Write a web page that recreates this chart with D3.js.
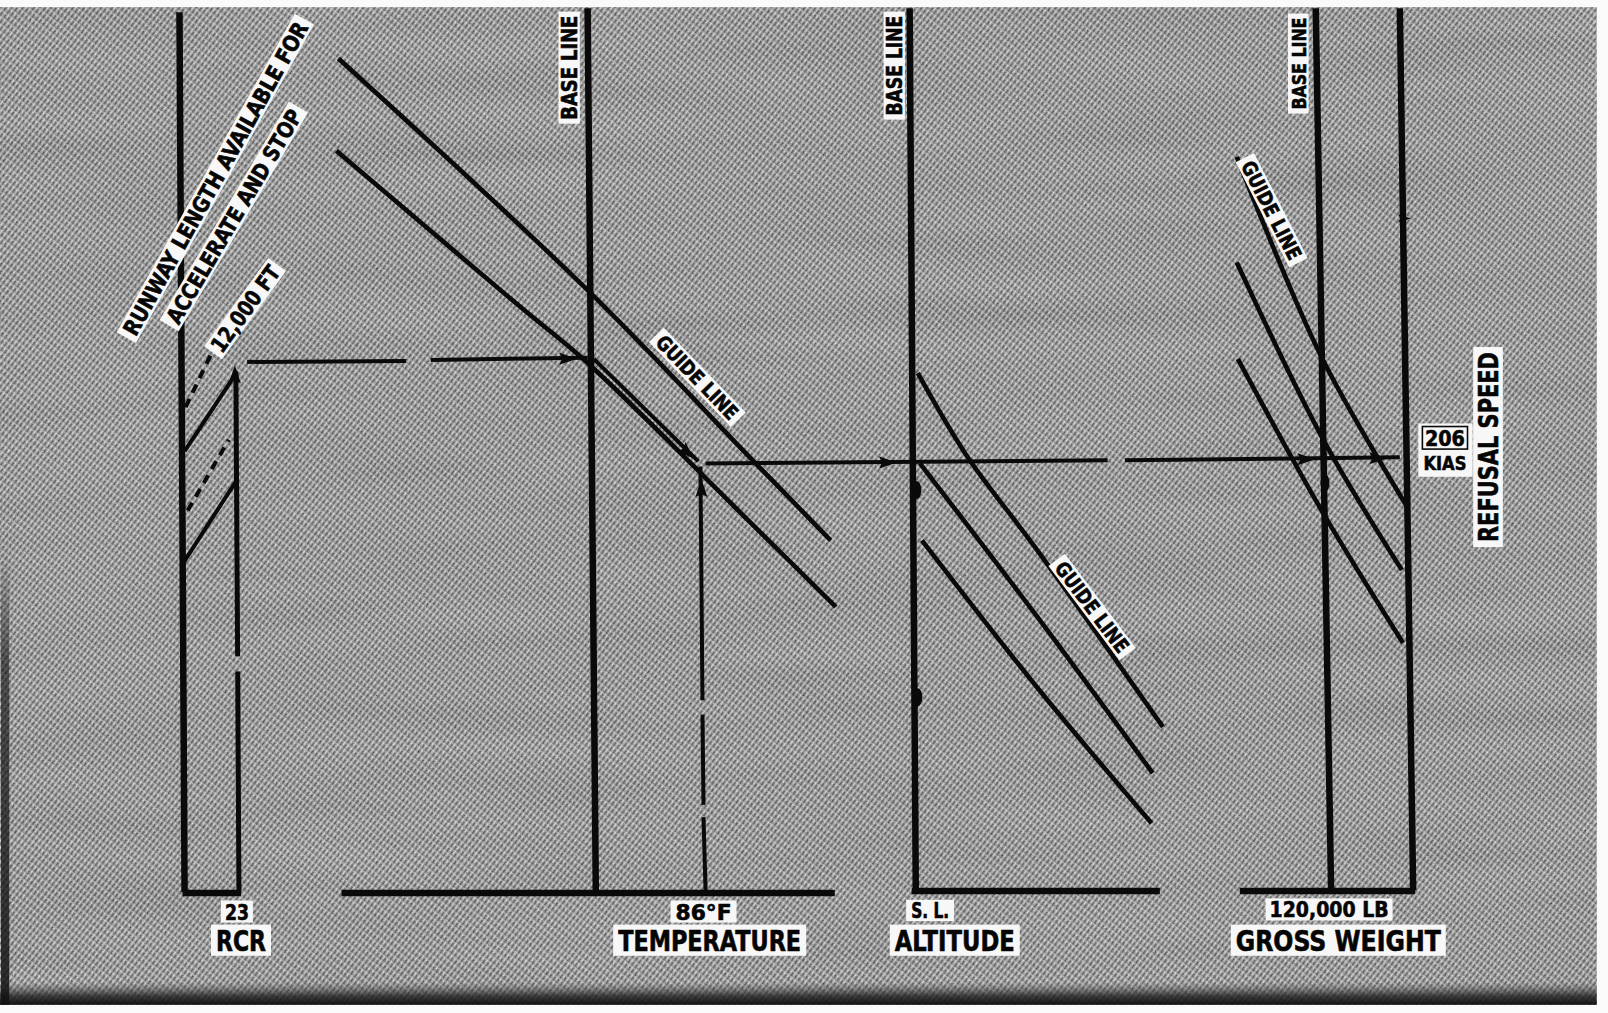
<!DOCTYPE html>
<html><head><meta charset="utf-8">
<script src="https://cdn.jsdelivr.net/npm/d3@7"></script>
<style>html,body{margin:0;padding:0;background:#fff;overflow:hidden}svg{display:block}</style>
</head><body>
<svg id="c" width="1608" height="1013"></svg>
<script>
// ===== DATA (nomogram grid units, 1568 x 988 grid) =====
const scaleRules = [            // vertical scales [top, bottom]
  [[175,12],[180,870]],         // RCR / runway length edge
  [[573,8],[581,870]],          // temperature base line
  [[887,8],[893,868]],          // altitude base line
  [[1283,8],[1298,868]],        // gross weight base line
  [[1365,8],[1378,868]]         // refusal speed scale
];
const footRules = [
  [[178,871],[235,871]],
  [[333,871],[814,871]],
  [[889,869],[1131,869]],
  [[1209,869],[1380,869]]
];
const rcrScale = [[[230,362],[231.7,640]],[[231.8,655],[233,870]]];
const rcrSolid = [[[180,440],[227,369]],[[180,547],[231,468]]];
const rcrDashed = [[[181,397],[206,345]],[[183,498],[223,429]]];
const tempGuides = [
  [[330,57],[573,283],[734,449],[810,527]],
  [[328,147],[507,299],[573,354],[722,500],[815,592]]
];
const altGuides = [
  [[895,364],[943,445],[1011,536],[1134,709]],
  [[897,452],[1011,601],[1124,754]],
  [[899,527],[1011,670],[1123,803]]
];
const gwGuides = [
  [[1206,153],[1288,347],[1372,494]],
  [[1206,256],[1291,430],[1367,556]],
  [[1207,350],[1290,500],[1368,627]]
];
const examplePath = [
  [[241,353],[396,352]],[[420,351],[573,349]],
  [[579,350],[681,450]],
  [[683,455],[685,683]],[[685,697],[686,785]],[[686,797],[688,868]],
  [[688,452],[1080,449]],[[1097,449],[1365,446]]
];
const arrows = [[229,363,-90,1],[556,350,0,1],[672,443,44,1],[684,474,-90,1],
                [868,451,0,1],[1276,448,0,1],[1346,447,0,1],[1371,213,0,0.7]];
const blobs = [[894,478],[895,680],[1292,471]];

const baseLineText = "BASE LINE";
const guideLineText = "GUIDE LINE";
const runwayTexts = ["RUNWAY LENGTH AVAILABLE FOR","ACCELERATE AND STOP","12,000 FT"];
const scaleTitles = ["RCR","TEMPERATURE","ALTITUDE","GROSS WEIGHT"];
const entryValues = ["23","86°F","S. L.","120,000 LB"];
const resultValue = ["206","KIAS"];
const resultTitle = "REFUSAL SPEED";

// ===== LAYOUT =====
const W=1608,H=1013;
const x=d3.scaleLinear().domain([0,1568]).range([0,W]);
const y=d3.scaleLinear().domain([0,988]).range([0,H]);
const svg=d3.select("#c");
const defs=svg.append("defs");
const pat=defs.append("pattern").attr("id","hatch").attr("width",6).attr("height",4.4)
  .attr("patternUnits","userSpaceOnUse").attr("patternTransform","rotate(-52)");
pat.append("rect").attr("width",6).attr("height",4.4).attr("fill","#8a8a8a");
pat.append("rect").attr("x",0).attr("y",0).attr("width",4.2).attr("height",1.6).attr("fill","#222");
pat.append("rect").attr("x",2.5).attr("y",2.2).attr("width",3.5).attr("height",1.3).attr("fill","#e6e6e6");
const f=defs.append("filter").attr("id","grain").attr("x",0).attr("y",0).attr("width","100%").attr("height","100%");
f.append("feTurbulence").attr("type","fractalNoise").attr("baseFrequency","0.6").attr("numOctaves",2).attr("seed",7);
f.append("feColorMatrix").attr("type","matrix").attr("values","0.6 0.6 0.6 0 -0.4  0.6 0.6 0.6 0 -0.4  0.6 0.6 0.6 0 -0.4  0 0 0 0 0.9");
const f2=defs.append("filter").attr("id","blotch").attr("x",0).attr("y",0).attr("width","100%").attr("height","100%");
f2.append("feTurbulence").attr("type","fractalNoise").attr("baseFrequency","0.004 0.03").attr("numOctaves",2).attr("seed",2);
f2.append("feColorMatrix").attr("type","matrix").attr("values","0.33 0.33 0.33 0 0  0.33 0.33 0.33 0 0  0.33 0.33 0.33 0 0  0 0 0 0 0.8");
const bg=defs.append("linearGradient").attr("id","bottomband").attr("x1",0).attr("y1",0).attr("x2",0).attr("y2",1);
bg.append("stop").attr("offset","0").attr("stop-color","#555").attr("stop-opacity",0);
bg.append("stop").attr("offset","0.6").attr("stop-color","#222").attr("stop-opacity",0.8);
bg.append("stop").attr("offset","1").attr("stop-color","#111").attr("stop-opacity",1);
const lg=defs.append("linearGradient").attr("id","leftband").attr("x1",0).attr("y1",0).attr("x2",0).attr("y2",1);
lg.append("stop").attr("offset","0").attr("stop-color","#111").attr("stop-opacity",0);
lg.append("stop").attr("offset","0.25").attr("stop-color","#111").attr("stop-opacity",0.6);
lg.append("stop").attr("offset","1").attr("stop-color","#111").attr("stop-opacity",0.85);

svg.append("rect").attr("width",W).attr("height",H).attr("fill","#fafafa");
const paper={x0:x(0),y0:y(7),x1:x(1557),y1:y(980)};
svg.append("rect").attr("x",paper.x0).attr("y",paper.y0).attr("width",paper.x1-paper.x0).attr("height",paper.y1-paper.y0).attr("fill","url(#hatch)");
svg.append("rect").attr("x",paper.x0).attr("y",paper.y0).attr("width",paper.x1-paper.x0).attr("height",paper.y1-paper.y0).attr("filter","url(#grain)").attr("opacity",0.4);
svg.append("rect").attr("x",paper.x0).attr("y",paper.y0).attr("width",paper.x1-paper.x0).attr("height",paper.y1-paper.y0).attr("filter","url(#blotch)").attr("opacity",0.18);
svg.append("rect").attr("x",paper.x0).attr("y",y(958)).attr("width",paper.x1-paper.x0).attr("height",y(980)-y(958)).attr("fill","url(#bottomband)");
svg.append("rect").attr("x",x(1)).attr("y",y(540)).attr("width",x(8)).attr("height",y(980)-y(540)).attr("fill","url(#leftband)");

const ink="#0a0a0a";
const straight=d3.line().x(d=>x(d[0])).y(d=>y(d[1]));
const smooth=d3.line().x(d=>x(d[0])).y(d=>y(d[1])).curve(d3.curveCatmullRom.alpha(0.5));
const g=svg.append("g").attr("fill","none").attr("stroke",ink);

g.selectAll(".rule").data(scaleRules).join("path").attr("d",straight).attr("stroke-width",6.5);
g.selectAll(".foot").data(footRules).join("path").attr("d",straight).attr("stroke-width",6.5);
g.selectAll(".rcrs").data(rcrScale).join("path").attr("d",straight).attr("stroke-width",5);
g.selectAll(".rcrsol").data(rcrSolid).join("path").attr("d",straight).attr("stroke-width",4);
g.selectAll(".rcrdash").data(rcrDashed).join("path").attr("d",straight).attr("stroke-width",4).attr("stroke-dasharray","9,7");
g.selectAll(".tg").data(tempGuides).join("path").attr("d",smooth).attr("stroke-width",4.6);
g.selectAll(".ag").data(altGuides).join("path").attr("d",smooth).attr("stroke-width",4.6);
g.selectAll(".gg").data(gwGuides).join("path").attr("d",smooth).attr("stroke-width",4.6);
g.selectAll(".ex").data(examplePath).join("path").attr("d",straight).attr("stroke-width",4);

svg.append("g").selectAll("ellipse").data(blobs).join("ellipse")
  .attr("cx",d=>x(d[0])).attr("cy",d=>y(d[1])).attr("rx",4.5).attr("ry",9).attr("fill",ink);
svg.append("g").selectAll("path").data(arrows).join("path")
  .attr("transform",d=>`translate(${x(d[0])},${y(d[1])}) rotate(${d[2]}) scale(${d[3]})`)
  .attr("d","M7,0 L-11,-6 L-8,0 L-11,6 Z").attr("fill",ink);

// ===== LABELS =====
const FONT='"DejaVu Sans Condensed","Liberation Sans Narrow","DejaVu Sans",Arial,sans-serif';
function label(t,cx,cy,a,fs,len,padX,padY){
  const grp=svg.append("g").attr("transform",`translate(${x(cx)},${y(cy)}) rotate(${a})`);
  const ch=fs*0.73;
  grp.append("rect").attr("x",-len/2-padX).attr("y",-ch/2-padY).attr("width",len+2*padX).attr("height",ch+2*padY).attr("fill","#f7f7f7");
  grp.append("text").attr("x",0).attr("y",ch/2).attr("text-anchor","middle")
    .attr("font-family",FONT).attr("font-weight","bold").attr("font-size",fs)
    .attr("stroke","#050505").attr("stroke-width",0.6)
    .attr("textLength",len).attr("lengthAdjust","spacingAndGlyphs").attr("fill","#050505").text(t);
  return grp;
}
// base line tags
label(baseLineText,555,66,-90,21,104,4,3);
label(baseLineText,872,64,-90,21,100,4,3);
label(baseLineText,1266,62,-90,20,92,4,3);
// guide line tags
label(guideLineText,680,368,46,20,108,5,3);
label(guideLineText,1065,592,53,20,108,5,3);
label(guideLineText,1240,205,63,20,108,5,3);
// runway
label(runwayTexts[0],210,174,-60.8,22,355,5,3);
label(runwayTexts[1],228,211,-59.4,22,244,5,3);
label(runwayTexts[2],239,301,-54,22,101,4,3);
// entry values and titles
label(entryValues[0],231,889,0,22,24,4,3);
label(scaleTitles[0],235,917,0,29,50,5,5);
label(entryValues[1],686,889,0,22,56,5,3);
label(scaleTitles[1],692,917,0,29,183,5,5);
label(entryValues[2],907,888,0,21,38,5,3);
label(scaleTitles[2],931,917,0,29,120,5,5);
label(entryValues[3],1296,887,0,22,119,4,3);
label(scaleTitles[3],1305,917,0,29,205,5,5);
// result
svg.append("rect").attr("x",x(1383)).attr("y",y(413)).attr("width",x(1436)-x(1383)).attr("height",y(465)-y(413)).attr("fill","#f7f7f7");
label(resultTitle,1451,436,-90,27,190,5,5);
label(resultValue[0],1409,427,0,22,40,3,3);
svg.append("rect").attr("x",x(1387)).attr("y",y(416)).attr("width",x(1431)-x(1387)).attr("height",y(438)-y(416))
  .attr("fill","none").attr("stroke",ink).attr("stroke-width",1.6);
label(resultValue[1],1409,451,0,20,43,3,2);
</script>
</body></html>
